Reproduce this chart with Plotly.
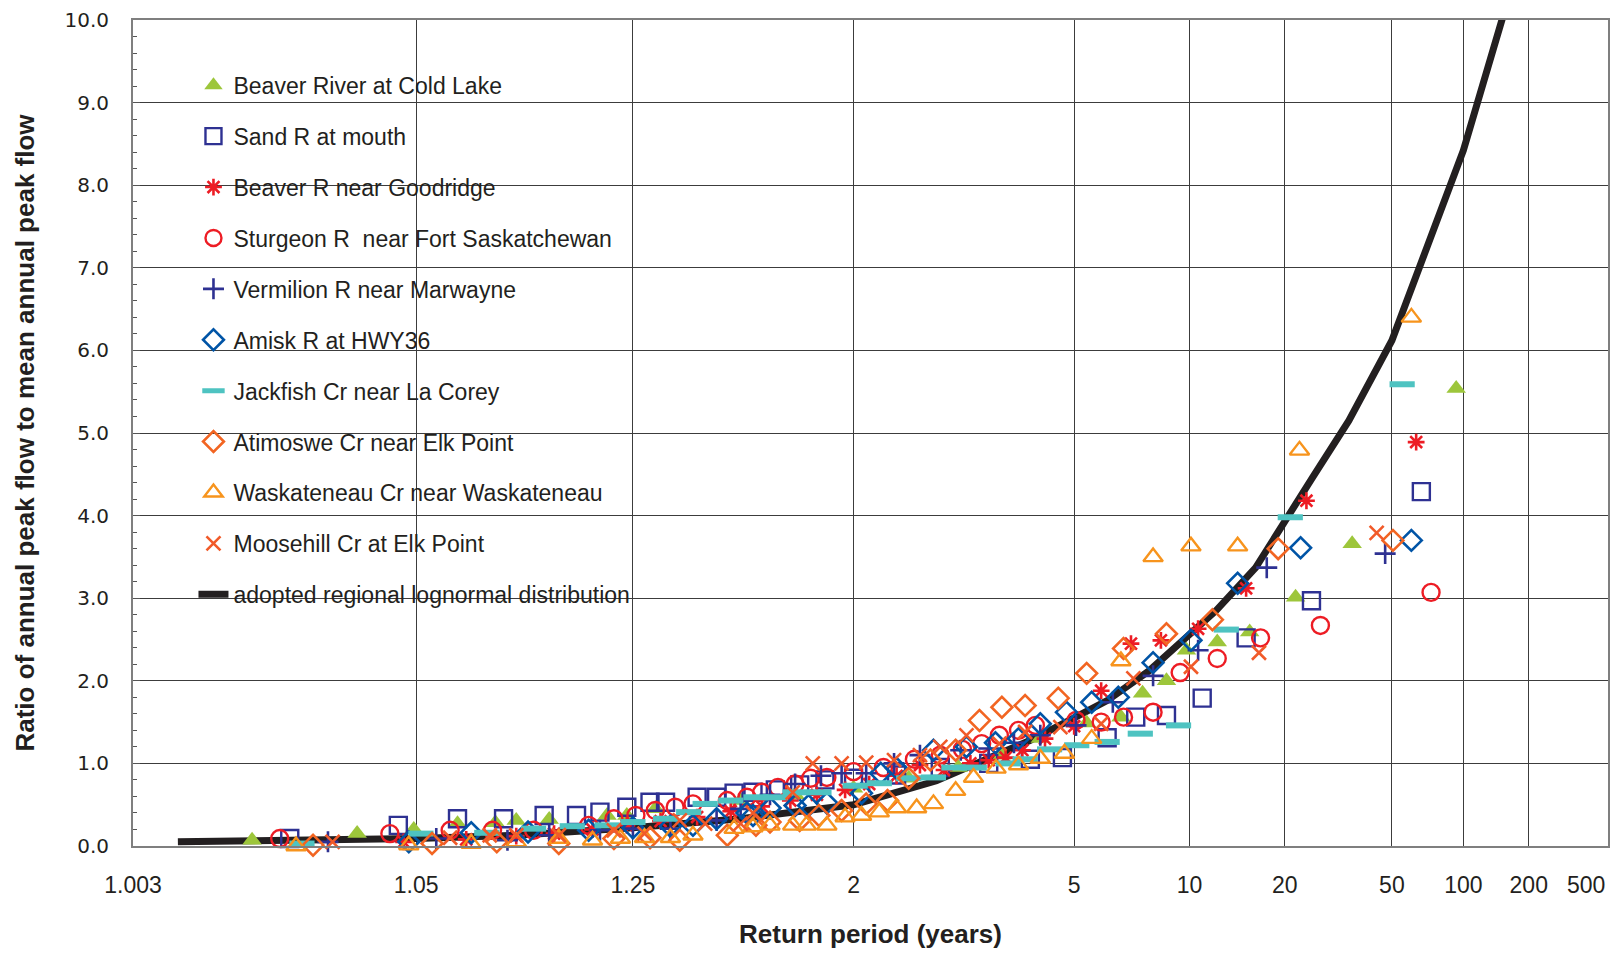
from statistics import NormalDist
import plotly.graph_objects as go

# ---------------- data (return period in years, ratio to mean annual peak) ----------------
tick_T = [1.003, 1.05, 1.25, 2, 5, 10, 20, 50, 100, 200, 500]
tick_labels = ["1.003", "1.05", "1.25", "2", "5", "10", "20", "50", "100", "200", "500"]

curve_T = [1.005, 1.05, 1.11, 1.25, 1.5, 2, 2.66, 4, 5, 6, 7.7, 10, 12, 16, 20, 25, 34, 50, 100, 200]
curve_ratio = [0.05, 0.09, 0.13, 0.22, 0.33, 0.5, 0.79, 1.28, 1.55, 1.76, 2.12, 2.55, 2.85, 3.37, 3.94, 4.46, 5.15, 6.12, 8.42, 11.1]

beaver_cold_T = [1.011, 1.03, 1.049, 1.07, 1.094, 1.11, 1.14, 1.21, 1.24, 1.29, 1.5, 1.7, 2.0, 2.4, 2.9, 3.5, 4.2,
                 5.35, 6.5, 7.4, 8.6, 9.8, 12.1, 15.3, 21.8, 35, 93]
beaver_cold_ratio = [0.07, 0.15, 0.2, 0.27, 0.28, 0.31, 0.32, 0.37, 0.37, 0.45, 0.55, 0.62, 0.7, 0.82, 0.95, 1.1, 1.3,
                     1.49, 1.56, 1.85, 2.0, 2.37, 2.47, 2.59, 3.01, 3.66, 5.54]

sand_T = [1.016, 1.043, 1.07, 1.10, 1.135, 1.17, 1.20, 1.24, 1.28, 1.31, 1.38, 1.43, 1.48, 1.54, 1.62, 1.72, 1.84,
          2.0, 2.3, 2.7, 3.3, 4.0, 4.7, 6.0, 7.1, 8.6, 10.9, 14.9, 24.8, 66]
sand_ratio = [0.09, 0.25, 0.33, 0.33, 0.37, 0.37, 0.41, 0.47, 0.53, 0.53, 0.59, 0.59, 0.64, 0.65, 0.68, 0.74, 0.80,
              0.82, 0.86, 0.95, 1.0, 1.05, 1.07, 1.31, 1.56, 1.58, 1.79, 2.52, 2.97, 4.29]

goodridge_T = [1.045, 1.075, 1.11, 1.145, 1.19, 1.24, 1.30, 1.38, 1.47, 1.57, 1.68, 1.8, 1.95, 2.1, 2.3, 2.5, 2.74,
               3.05, 3.3, 3.56, 3.85, 4.3, 5.0, 5.8, 6.9, 8.3, 10.6, 14.9, 23.8, 62.8]
goodridge_ratio = [0.05, 0.08, 0.12, 0.15, 0.2, 0.25, 0.3, 0.35, 0.42, 0.48, 0.55, 0.62, 0.68, 0.75, 0.85, 0.98, 0.92,
                   1.0, 1.04, 1.07, 1.16, 1.3, 1.45, 1.88, 2.45, 2.49, 2.63, 3.12, 4.18, 4.89]

sturgeon_T = [1.0145, 1.04, 1.066, 1.092, 1.125, 1.185, 1.22, 1.255, 1.29, 1.33, 1.37, 1.46, 1.52, 1.57, 1.63, 1.70,
              1.77, 1.85, 2.0, 2.2, 2.45, 2.7, 2.95, 3.2, 3.46, 3.78, 4.1, 5.05, 5.8, 6.6, 7.9, 9.4, 12.1, 16.6, 26.7, 72.5]
sturgeon_ratio = [0.09, 0.15, 0.19, 0.19, 0.19, 0.25, 0.33, 0.37, 0.43, 0.47, 0.51, 0.55, 0.59, 0.65, 0.71, 0.75,
                  0.82, 0.83, 0.9, 0.95, 1.05, 1.1, 1.17, 1.24, 1.34, 1.40, 1.46, 1.52, 1.5, 1.56, 1.62, 2.1, 2.27, 2.52, 2.67, 3.07]

vermilion_T = [1.023, 1.059, 1.103, 1.14, 1.2, 1.25, 1.32, 1.43, 1.5, 1.6, 1.7, 1.82, 1.93, 2.08, 2.28, 2.5, 2.93,
               3.3, 3.7, 4.2, 5.05, 6.2, 7.9, 10.6, 17.4, 47]
vermilion_ratio = [0.05, 0.09, 0.07, 0.13, 0.19, 0.21, 0.21, 0.31, 0.45, 0.62, 0.75, 0.85, 0.88, 0.88, 1.0, 1.1, 1.16,
                   1.18, 1.25, 1.34, 1.46, 1.74, 2.06, 2.37, 3.37, 3.54]

amisk_T = [1.047, 1.078, 1.12, 1.185, 1.25, 1.32, 1.37, 1.43, 1.52, 1.54, 1.6, 1.7, 1.76, 1.85, 2.05, 2.18, 2.3, 2.63,
           3.0, 3.4, 3.78, 4.2, 4.8, 5.5, 6.4, 7.9, 10.1, 14, 22.7, 60]
amisk_ratio = [0.05, 0.16, 0.17, 0.19, 0.22, 0.24, 0.25, 0.33, 0.40, 0.37, 0.46, 0.49, 0.49, 0.52, 0.64, 0.88, 0.94, 1.16,
               1.2, 1.25, 1.3, 1.48, 1.62, 1.74, 1.8, 2.22, 2.49, 3.18, 3.61, 3.70]

jackfish_T = [1.018, 1.052, 1.088, 1.125, 1.165, 1.21, 1.25, 1.31, 1.36, 1.40, 1.47, 1.55, 1.62, 1.70, 1.81, 2.01,
              2.17, 2.4, 2.63, 2.85, 3.1, 3.6, 3.9, 4.4, 5.07, 6.0, 7.3, 9.3, 12.9, 20.9, 55]
jackfish_ratio = [0.03, 0.15, 0.16, 0.21, 0.24, 0.25, 0.29, 0.33, 0.41, 0.51, 0.55, 0.59, 0.59, 0.65, 0.65, 0.73,
                  0.76, 0.82, 0.83, 0.95, 0.95, 1.0, 1.05, 1.17, 1.22, 1.26, 1.36, 1.46, 2.62, 3.98, 5.59]

atimoswe_T = [1.02, 1.057, 1.095, 1.15, 1.22, 1.28, 1.34, 1.46, 1.55, 1.6, 1.72, 1.81, 1.93, 2.08, 2.23, 2.4, 2.6,
              2.87, 3.17, 3.5, 3.9, 4.6, 5.35, 6.6, 8.6, 11.7, 19, 50.5]
atimoswe_ratio = [0.01, 0.03, 0.05, 0.03, 0.09, 0.1, 0.07, 0.13, 0.25, 0.29, 0.31, 0.37, 0.43, 0.51, 0.55, 0.82, 1.04,
                  1.16, 1.52, 1.68, 1.7, 1.79, 2.09, 2.39, 2.57, 2.74, 3.60, 3.70]

waskat_T = [1.017, 1.047, 1.078, 1.11, 1.15, 1.19, 1.23, 1.27, 1.32, 1.37, 1.48, 1.54, 1.6, 1.69, 1.75, 1.85, 1.95,
            2.05, 2.17, 2.3, 2.47, 2.63, 2.87, 3.09, 3.41, 3.78, 4.2, 4.75, 5.5, 6.5, 7.9, 10.1, 14, 22.5, 60]
waskat_ratio = [0.0, 0.01, 0.03, 0.05, 0.09, 0.07, 0.09, 0.1, 0.1, 0.13, 0.21, 0.23, 0.25, 0.25, 0.25, 0.25, 0.35,
                0.37, 0.41, 0.46, 0.46, 0.51, 0.67, 0.83, 0.94, 0.98, 1.06, 1.12, 1.3, 2.24, 3.5, 3.63, 3.63, 4.79, 6.4]

moosehill_T = [1.024, 1.066, 1.09, 1.11, 1.15, 1.22, 1.27, 1.34, 1.4, 1.5, 1.54, 1.69, 1.78, 1.93, 2.08, 2.28, 2.5,
               2.7, 3.0, 3.46, 3.9, 4.65, 5.8, 7.0, 10.1, 16.4, 43.5]
moosehill_ratio = [0.05, 0.1, 0.13, 0.13, 0.13, 0.19, 0.15, 0.31, 0.27, 0.27, 0.40, 0.65, 1.0, 1.0, 1.01, 1.04, 1.1,
                   1.2, 1.34, 1.24, 1.38, 1.44, 1.48, 2.03, 2.17, 2.34, 3.79]

# ---------------- probability (normal) scale for the return period axis ----------------
ND = NormalDist()


def rp_to_z(T):
    return ND.inv_cdf(1.0 - 1.0 / T)


def zs(Ts):
    return [rp_to_z(t) for t in Ts]


series = [
    ("Beaver River at Cold Lake", beaver_cold_T, beaver_cold_ratio,
     dict(symbol="triangle-up", size=17, color="#9DC63B", line=dict(width=0))),
    ("Sand R at mouth", sand_T, sand_ratio,
     dict(symbol="square-open", size=17, color="#2E3192", line=dict(width=2.4))),
    ("Beaver R near Goodridge", goodridge_T, goodridge_ratio,
     dict(symbol="asterisk-open", size=14, color="#ED1C24", line=dict(width=2.6, color="#ED1C24"))),
    ("Sturgeon R  near Fort Saskatchewan", sturgeon_T, sturgeon_ratio,
     dict(symbol="circle-open", size=17, color="#ED1C24", line=dict(width=2.4))),
    ("Vermilion R near Marwayne", vermilion_T, vermilion_ratio,
     dict(symbol="cross-thin-open", size=15, color="#2E3192", line=dict(width=2.6, color="#2E3192"))),
    ("Amisk R at HWY36", amisk_T, amisk_ratio,
     dict(symbol="diamond-open", size=16, color="#0054A6", line=dict(width=2.6))),
    ("Jackfish Cr near La Corey", jackfish_T, jackfish_ratio,
     dict(symbol="line-ew-open", size=18, color="#4EC3C1", line=dict(width=6, color="#4EC3C1"))),
    ("Atimoswe Cr near Elk Point", atimoswe_T, atimoswe_ratio,
     dict(symbol="diamond-open", size=16, color="#F26522", line=dict(width=2.6))),
    ("Waskateneau Cr near Waskateneau", waskat_T, waskat_ratio,
     dict(symbol="triangle-up-open", size=17, color="#F7941D", line=dict(width=2.4))),
    ("Moosehill Cr at Elk Point", moosehill_T, moosehill_ratio,
     dict(symbol="x-thin-open", size=14, color="#F15A29", line=dict(width=2.6, color="#F15A29"))),
]

fig = go.Figure()

# adopted distribution line (drawn beneath the markers, listed last in the legend)
fig.add_trace(go.Scatter(
    x=zs(curve_T), y=curve_ratio, mode="lines",
    name="adopted regional lognormal distribution",
    line=dict(color="#231F20", width=7),
    legendrank=20, legendgroup="curve", cliponaxis=True,
))

for i, (name, T, r, mk) in enumerate(series):
    fig.add_trace(go.Scatter(
        x=zs(T), y=r, mode="markers", name=name, marker=mk,
        legendrank=i + 1, legendgroup=name, cliponaxis=False,
    ))

xmin, xmax = rp_to_z(1.003), rp_to_z(500)

# white legend panel hiding the grid
fig.add_shape(type="rect", xref="paper", yref="y", x0=0, x1=0.36, y0=2.84, y1=9.55,
              fillcolor="white", line=dict(width=0), layer="between")

tick_font = dict(family="Liberation Sans Narrow, Arial Narrow, Liberation Sans, sans-serif", size=23, color="#231F20")

fig.add_annotation(x=xmax, xref="x", y=0, yref="paper", text="500", showarrow=False,
                   xanchor="right", yanchor="top", xshift=-1, yshift=-24, font=tick_font)

grid_col = "#3C3C3C"
fig.update_layout(
    width=1618, height=955,
    margin=dict(l=133, r=8, t=20, b=109),
    paper_bgcolor="white", plot_bgcolor="white",
    showlegend=True,
    legend=dict(x=0.041, y=0.947, xanchor="left", yanchor="top", bgcolor="rgba(0,0,0,0)",
                font=dict(family="Liberation Sans, Arial, sans-serif", size=23, color="#231F20"),
                traceorder="grouped", tracegroupgap=18, itemwidth=30),
    xaxis=dict(
        range=[xmin, xmax], tickmode="array",
        tickvals=[rp_to_z(t) for t in tick_T[:-1]], ticktext=tick_labels[:-1],
        showgrid=True, gridcolor=grid_col, gridwidth=1, zeroline=False,
        showline=True, mirror=True, linecolor="#7F7F7F", linewidth=2,
        ticks="", ticklabelstandoff=17,
        tickfont=tick_font,
        title=dict(text="<b>Return period (years)</b>", standoff=28,
                   font=dict(family="Liberation Sans Narrow, Arial Narrow, Liberation Sans, sans-serif", size=26, color="#231F20")),
    ),
    yaxis=dict(
        range=[0, 10], dtick=1, tick0=0, tickformat=".1f",
        showgrid=True, gridcolor=grid_col, gridwidth=1, zeroline=False,
        showline=True, mirror=True, linecolor="#7F7F7F", linewidth=2,
        ticks="inside", ticklen=7, tickcolor="#555555", ticklabelstandoff=18,
        minor=dict(ticks="inside", dtick=0.2, ticklen=4, tickcolor="#555555", showgrid=False),
        tickfont=dict(family="DejaVu Sans, sans-serif", size=20, color="#231F20"),
        title=dict(text="<b>Ratio of annual peak flow to mean annual peak flow</b>", standoff=22,
                   font=dict(family="Liberation Sans Narrow, Arial Narrow, Liberation Sans, sans-serif", size=26, color="#231F20")),
    ),
)

fig.write_html("out.html", config={"displayModeBar": False},
               post_script="document.body.style.margin='0';document.body.style.overflow='hidden';")
